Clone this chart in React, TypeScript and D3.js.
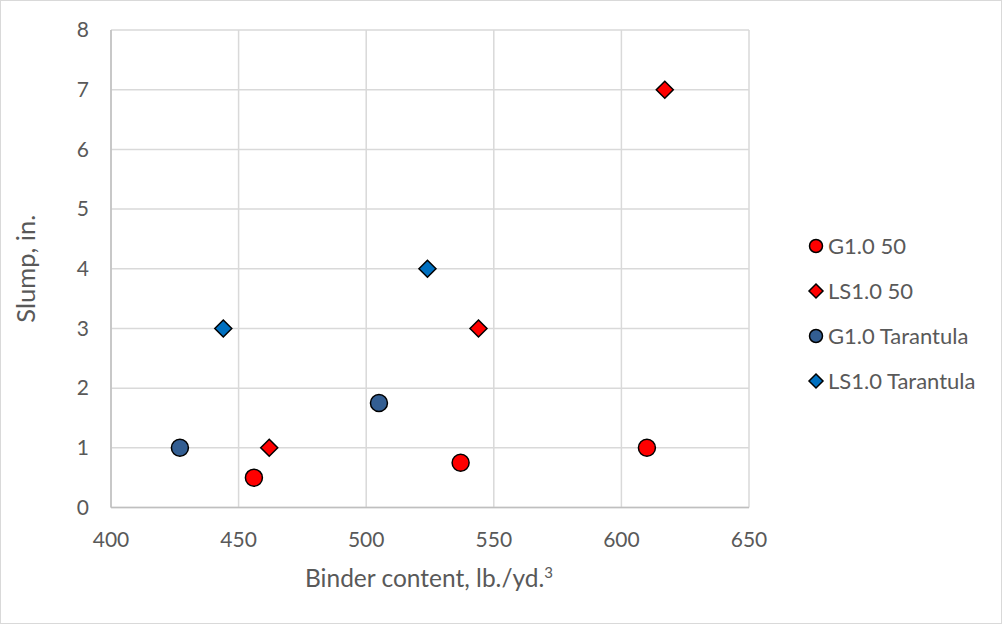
import React from "react";
import * as d3 from "d3";

const W = 1004;
const H = 626;

const xTicks = [400, 450, 500, 550, 600, 650];
const yTicks = [0, 1, 2, 3, 4, 5, 6, 7, 8];

const g50X = [456, 537, 610];
const g50Y = [0.5, 0.75, 1];
const ls50X = [462, 544, 617];
const ls50Y = [1, 3, 7];
const gTarX = [427, 505];
const gTarY = [1, 1.75];
const lsTarX = [444, 524];
const lsTarY = [3, 4];

const seriesNames = ["G1.0 50", "LS1.0 50", "G1.0 Tarantula", "LS1.0 Tarantula"];
const seriesColors = ["#FF0000", "#FF0000", "#335E92", "#0070C0"];
const seriesShapes = ["circle", "diamond", "circle", "diamond"];

const FONT = "Lato, 'Open Sans', sans-serif";
const TXT = "#595959";

export default function App() {
  const x = d3.scaleLinear().domain([400, 650]).range([111, 749]);
  const y = d3.scaleLinear().domain([0, 8]).range([507.5, 30]);

  const series = [
    { xs: g50X, ys: g50Y },
    { xs: ls50X, ys: ls50Y },
    { xs: gTarX, ys: gTarY },
    { xs: lsTarX, ys: lsTarY },
  ];

  const marker = (shape: string, cx: number, cy: number, color: string, size: number, key: any) => {
    if (shape === "circle") {
      return <circle key={key} cx={cx} cy={cy} r={size} fill={color} stroke="#000" strokeWidth={1.5} />;
    }
    const s = size;
    return (
      <path
        key={key}
        d={`M${cx},${cy - s}L${cx + s},${cy}L${cx},${cy + s}L${cx - s},${cy}Z`}
        fill={color}
        stroke="#000"
        strokeWidth={1.5}
      />
    );
  };

  const sizes = { circle: 8.5, diamond: 8.5 } as any;
  const legendSizes = { circle: 6.5, diamond: 7 } as any;
  const legendY = [246, 291, 336, 381];

  return (
    <svg width={W} height={H} style={{ position: "absolute", left: 0, top: 0 }} fontFamily={FONT}>
      <rect x={0.5} y={0.5} width={W - 3} height={H - 3} fill="#fff" stroke="#D9D9D9" />
      {yTicks.map((t) => (
        <line key={"gy" + t} x1={x(400)} x2={x(650)} y1={y(t)} y2={y(t)} stroke="#D9D9D9" strokeWidth={1.5} />
      ))}
      {xTicks.map((t) => (
        <line key={"gx" + t} x1={x(t)} x2={x(t)} y1={y(0)} y2={y(8)} stroke="#D9D9D9" strokeWidth={1.5} />
      ))}
      <line x1={x(400)} x2={x(400)} y1={y(0)} y2={y(8)} stroke="#BFBFBF" strokeWidth={1.5} />
      <line x1={x(400)} x2={x(650)} y1={y(0)} y2={y(0)} stroke="#BFBFBF" strokeWidth={1.5} />
      {yTicks.map((t) => (
        <text key={"ty" + t} x={89} y={y(t)} dy="0.35em" textAnchor="end" fontSize={21} fill={TXT}>
          {t}
        </text>
      ))}
      {xTicks.map((t) => (
        <text key={"tx" + t} x={x(t)} y={540} dy="0.35em" textAnchor="middle" fontSize={21} fill={TXT}>
          {t}
        </text>
      ))}
      <text x={429} y={578} dy="0.35em" textAnchor="middle" fontSize={24.5} fill={TXT}>
        Binder content, lb./yd.<tspan dy="-0.6em" fontSize={15}>3</tspan>
      </text>
      <text
        transform={`translate(26,${(y(0) + y(8)) / 2}) rotate(-90)`}
        textAnchor="middle"
        dy="0.35em"
        fontSize={25.5}
        fill={TXT}
      >
        Slump, in.
      </text>
      {series.map((s, si) =>
        s.xs.map((xv, i) =>
          marker(seriesShapes[si], x(xv), y(s.ys[i]), seriesColors[si], sizes[seriesShapes[si]], `m${si}-${i}`)
        )
      )}
      {seriesNames.map((n, i) => (
        <g key={"lg" + i}>
          {marker(seriesShapes[i], 816, legendY[i], seriesColors[i], legendSizes[seriesShapes[i]], "lm" + i)}
          <text x={828} y={legendY[i]} dy="0.35em" fontSize={22} fill={TXT}>
            {n}
          </text>
        </g>
      ))}
    </svg>
  );
}
